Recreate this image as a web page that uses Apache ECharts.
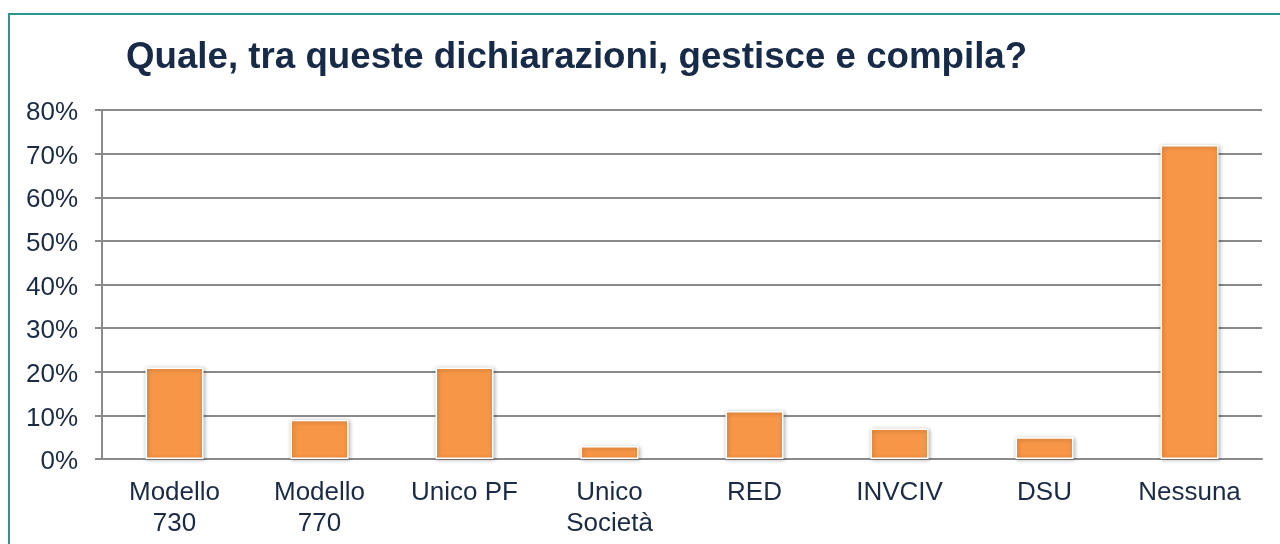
<!DOCTYPE html>
<html>
<head>
<meta charset="utf-8">
<script src="https://cdn.jsdelivr.net/npm/echarts@6/dist/echarts.min.js"></script>
<style>
  html, body { margin: 0; padding: 0; background: #fff; }
  #chart { width: 1280px; height: 544px; }
</style>
</head>
<body>
<div id="chart"></div>
<script>
var categories = ['Modello\n730', 'Modello\n770', 'Unico PF', 'Unico\nSocietà', 'RED', 'INVCIV', 'DSU', 'Nessuna']
var values = [21, 9, 21, 3, 11, 7, 5, 72]
var yTicks = [0, 10, 20, 30, 40, 50, 60, 70, 80]

var textColor = '#1B2B45'
var chart = echarts.init(document.getElementById('chart'))
chart.setOption({
  animation: false,
  backgroundColor: '#fff',
  graphic: [{
    type: 'rect',
    shape: { x: 9, y: 14, width: 1320, height: 600 },
    style: { fill: 'none', stroke: '#2A968E', lineWidth: 2 }
  }],
  title: {
    text: 'Quale, tra queste dichiarazioni, gestisce e compila?',
    left: 121,
    top: 34,
    textStyle: {
      fontFamily: 'Liberation Sans, Arial, sans-serif',
      fontSize: 36.7,
      fontWeight: 'bold',
      color: '#172A48'
    }
  },
  grid: { left: 102, right: 18, top: 110, bottom: 85 },
  xAxis: {
    type: 'category',
    data: categories,
    axisLine: { lineStyle: { color: '#8A8A8A', width: 2 } },
    axisTick: { show: false },
    axisLabel: {
      margin: 18,
      interval: 0,
      fontFamily: 'Liberation Sans, Arial, sans-serif',
      fontSize: 26,
      lineHeight: 31,
      color: textColor
    }
  },
  yAxis: {
    type: 'value',
    min: yTicks[0],
    max: yTicks[yTicks.length - 1],
    interval: 10,
    axisLine: { show: true, lineStyle: { color: '#8A8A8A', width: 2 } },
    axisTick: { show: true, length: 7, lineStyle: { color: '#8A8A8A', width: 2 } },
    splitLine: { lineStyle: { color: '#8A8A8A', width: 2 } },
    axisLabel: {
      margin: 24,
      formatter: '{p|{value}%}',
      rich: {
        p: {
          fontFamily: 'Liberation Sans, Arial, sans-serif',
          fontSize: 26,
          color: textColor,
          padding: [6, 0, 0, 0]
        }
      }
    }
  },
  series: [{
    type: 'bar',
    data: values,
    barWidth: 58,
    itemStyle: {
      color: '#F79646',
      borderColor: '#FFFFFF',
      borderWidth: 1.5,
      shadowColor: 'rgba(0,0,0,0.3)',
      shadowBlur: 4,
      shadowOffsetX: 1,
      shadowOffsetY: 1
    }
  }]
})
</script>
</body>
</html>
